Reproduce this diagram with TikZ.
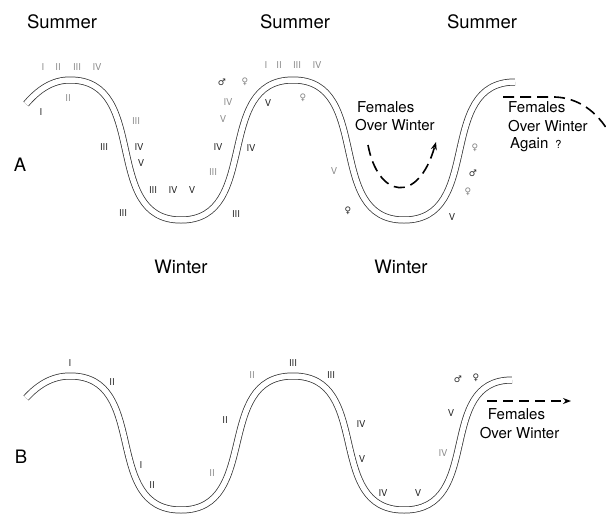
\documentclass[tikz,border=0pt]{standalone}
\usepackage{fontspec}
\setmainfont{TeX Gyre Heros}
\newfontfamily\symfont{DejaVu Sans}
\usetikzlibrary{arrows.meta}
\begin{document}
\begin{tikzpicture}[x=1pt,y=-1pt,
  band/.style={draw=black!80, line width=0.75pt, double=white, double distance=5.5pt},
  season/.style={font=\fontsize{18.5}{20}\selectfont, inner sep=0pt},
  note/.style={font=\fontsize{15}{18}\selectfont, inner sep=0pt},
  lt/.style={font=\fontsize{9.5}{11}\selectfont, text=black!45, inner sep=0pt},
  dk/.style={font=\fontsize{9.5}{11}\selectfont, text=black!85, inner sep=0pt},
  sexlt/.style={font=\symfont\fontsize{9}{11}\selectfont, text=black!50, inner sep=0pt},
  sexdk/.style={font=\symfont\fontsize{9}{11}\selectfont, text=black!85, inner sep=0pt},
  flight/.style={line width=1.6pt, dash pattern=on 11pt off 6pt},
  tip/.style={-{Stealth[length=8pt,width=6pt]}}]
\useasboundingbox (0,0) rectangle (606,517);

% seasons
\node[season] (s1) at (62,22) {Summer};
\node[season] (s2) at (295,22) {Summer};
\node[season] (s3) at (482,22) {Summer};
\node[season] (w1) at (181,267) {Winter};
\node[season] (w2) at (401,267) {Winter};
\node[season] (pa) at (20,165) {A};
\node[season] (pb) at (21,457) {B};

% ---------- panel A: the year as a wave ----------
\draw[band] (26,104) .. controls (38,90) and (52,80) .. (70,80)
  .. controls (150,80) and (101,220) .. (181,220)
  .. controls (261,220) and (213,80) .. (293,80)
  .. controls (373,80) and (324,220) .. (404,220)
  .. controls (484,220) and (435,82) .. (515,82);

% first summer / winter
\node[lt] (a1) at (43,67) {I};
\node[lt] (a2) at (58,67) {II};
\node[lt] (a3) at (77,67) {III};
\node[lt] (a4) at (97,67) {IV};
\node[lt] (a5) at (68,98) {II};
\node[dk] (a6) at (41,112) {I};
\node[lt] (a7) at (136,121) {III};
\node[dk] (a8) at (104,147) {III};
\node[dk] (a9) at (139,147) {IV};
\node[dk] (a10) at (141,163) {V};
\node[dk] (a11) at (153,190) {III};
\node[dk] (a12) at (173,190) {IV};
\node[dk] (a13) at (192,190) {V};
\node[dk] (a14) at (123,213) {III};

% second summer / winter
\node[lt] (b1) at (266,65) {I};
\node[lt] (b2) at (279,65) {II};
\node[lt] (b3) at (297,65) {III};
\node[lt] (b4) at (317,65) {IV};
\node[sexdk] (b5) at (222,82) {♂};
\node[sexlt] (b6) at (245,82) {♀};
\node[lt] (b7) at (228,102) {IV};
\node[dk] (b8) at (268,103) {V};
\node[sexlt] (b9) at (303,98) {♀};
\node[lt] (b10) at (223,119) {V};
\node[dk] (b11) at (218,147) {IV};
\node[dk] (b12) at (251,148) {IV};
\node[lt] (b13) at (213,172) {III};
\node[dk] (b14) at (236,214) {III};
\node[lt] (b15) at (334,171) {V};
\node[sexdk] (b16) at (348,211) {♀};

% third summer
\node[sexlt] (c1) at (475,148) {♀};
\node[sexdk] (c2) at (473,173) {♂};
\node[sexlt] (c3) at (468,192) {♀};
\node[dk] (c4) at (452,217) {V};

% overwintering females
\node[note, anchor=base west] (f1) at (357,112.5) {Females};
\node[note, anchor=base west] (f2) at (355,130.5) {Over Winter};
\coordinate (u0) at (368,145);
\coordinate (u1) at (436,142);
\draw[flight, tip] (u0) .. controls (378,198) and (418,205) .. (u1);

\node[note, anchor=base west] (g1) at (508,112.5) {Females};
\node[note, anchor=base west] (g2) at (508,131.5) {Over Winter};
\node[note, anchor=base west] (g3) at (510,148.5) {Again\hspace{7pt}{\fontsize{11}{12}\selectfont ?}};
\coordinate (r0) at (503,97);
\coordinate (r1) at (610,134);
\draw[flight] (r0) -- (555,97) .. controls (578,98) and (597,111) .. (r1);

% ---------- panel B ----------
\draw[band] (26,398) .. controls (38,385) and (52,376) .. (70,376)
  .. controls (150,376) and (101,510) .. (181,510)
  .. controls (261,510) and (213,376) .. (293,376)
  .. controls (373,376) and (324,510) .. (404,510)
  .. controls (484,510) and (435,380) .. (512,380);

\node[dk] (d1) at (70,363) {I};
\node[dk] (d2) at (112,382) {II};
\node[dk] (d3) at (141,465) {I};
\node[dk] (d4) at (152,485) {II};
\node[lt] (d5) at (252,375) {II};
\node[dk] (d6) at (293,363) {III};
\node[dk] (d7) at (331,375) {III};
\node[dk] (d8) at (225,420) {II};
\node[lt] (d9) at (212,473) {II};
\node[dk] (d10) at (361,424) {IV};
\node[dk] (d11) at (362,459) {V};
\node[dk] (d12) at (383,493) {IV};
\node[dk] (d13) at (418,493) {V};
\node[sexdk] (d14) at (458,379) {♂};
\node[sexdk] (d15) at (476,378) {♀};
\node[dk] (d16) at (451,413) {V};
\node[lt] (d17) at (443,453) {IV};

\node[note] (h1) at (516.5,414) {Females};
\node[note] (h2) at (519.5,433) {Over Winter};
\coordinate (v0) at (487,401);
\coordinate (v1) at (571,401);
\draw[line width=1.4pt, dash pattern=on 10pt off 6pt, tip] (v0) -- (v1);
\end{tikzpicture}
\end{document}
